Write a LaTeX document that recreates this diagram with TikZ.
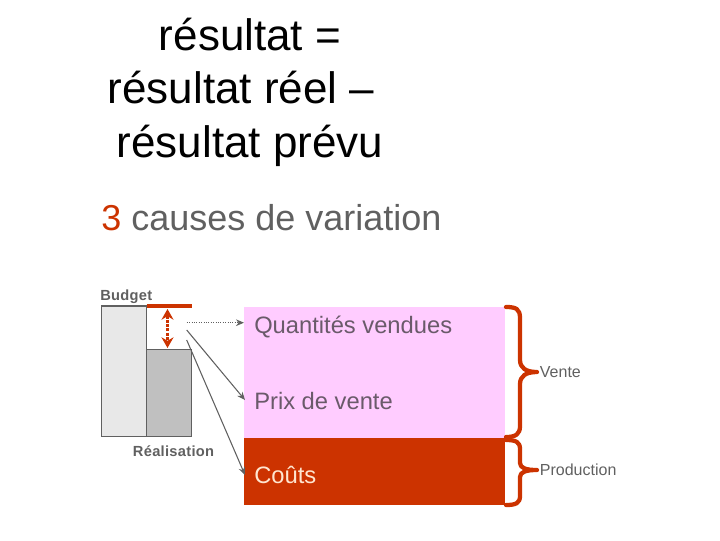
\documentclass[tikz,border=0pt]{standalone}
\usepackage{fontspec}
\setmainfont{Liberation Sans}
\usetikzlibrary{arrows.meta}
\definecolor{rouge}{HTML}{CC3300}
\definecolor{rose}{HTML}{FFCCFF}
\definecolor{gristxt}{HTML}{606060}
\definecolor{grisclair}{HTML}{E8E8E8}
\definecolor{grisfonce}{HTML}{C0C0C0}
\definecolor{bord}{HTML}{606060}
\definecolor{boxtxt}{HTML}{6A5A6A}
\definecolor{coutstxt}{HTML}{FFE6D0}
\tikzset{
  title/.style={anchor=base, font=\fontsize{33}{33}\selectfont, text=black, inner sep=0pt},
  boxlabel/.style={anchor=base west, font=\fontsize{17.8}{18}\selectfont, inner sep=0pt},
  small/.style={anchor=base west, font=\fontsize{11}{11}\selectfont\bfseries, text=gristxt, inner sep=0pt},
  bracelabel/.style={anchor=west, font=\fontsize{12}{12}\selectfont, text=gristxt, inner sep=0pt},
  conn/.style={draw=bord, line width=0.8pt, -{Stealth[length=6pt,width=5pt]}},
  brace/.style={draw=rouge, line width=3.2pt, line cap=round, line join=round}
}
\begin{document}
\begin{tikzpicture}[x=0.75pt,y=-0.75pt]
\useasboundingbox (0,0) rectangle (720,540);
% titles
\node[title] (t1) at (250,50) {résultat =};
\node[title] (t2) at (241,103) {résultat réel –};
\node[title] (t3) at (250,157) {résultat prévu};
\node[anchor=base west, inner sep=0pt, font=\fontsize{27}{27}\selectfont, text=gristxt] (causes) at (101,230) {\textcolor{rouge}{3} causes de variation};
% bar chart
\fill[grisclair] (101.7,306) rectangle (146.7,436.7);
\fill[grisfonce] (146.7,349.3) rectangle (191.7,436.7);
\draw[bord, line width=1.1pt] (101.7,306) rectangle (146.7,436.7);
\draw[bord, line width=1.1pt] (146.7,349.3) rectangle (191.7,436.7);
\draw[rouge, line width=2.6pt] (146.7,306) -- (191.7,306);
\coordinate (dtop) at (167.5,309);
\coordinate (dbot) at (167.5,348);
\draw[rouge, line width=2.2pt, densely dotted, {Stealth[length=8pt,width=9pt]}-{Stealth[length=8pt,width=9pt]}] (dtop) -- (dbot);
\node[small] (budget) at (100,300) {\addfontfeatures{LetterSpace=2}Budget};
\node[small] (real) at (132.7,456) {\addfontfeatures{LetterSpace=2}Réalisation};
% boxes
\fill[rose] (244,306.7) rectangle (505,438);
\fill[rouge] (244,438) rectangle (505,505);
\node[boxlabel, text=boxtxt] (q) at (254,333) {Quantités vendues};
\node[boxlabel, text=boxtxt] (p) at (254,409) {Prix de vente};
\node[boxlabel, text=coutstxt] (c) at (254,483) {Coûts};
% connectors
\coordinate (sq) at (186.7,322.7);
\coordinate (sp) at (186.7,330);
\coordinate (sc) at (186.7,340);
\coordinate (eq) at (244,322.7);
\coordinate (ep) at (245,400);
\coordinate (ec) at (245,475);
\draw[conn, densely dotted] (sq) -- (eq);
\draw[conn] (sp) -- (ep);
\draw[conn] (sc) -- (ec);
% braces
\draw[brace] (506,307) .. controls (516,307) and (520,309) .. (520,318)
  -- (520,360) .. controls (520,368) and (526,372) .. (537,372)
  .. controls (526,372) and (520,376) .. (520,384)
  -- (520,426) .. controls (520,434) and (516,437) .. (506,437);
\draw[brace] (506,440) .. controls (516,440) and (520,442) .. (520,449)
  -- (520,463) .. controls (520,468) and (526,470) .. (537,470)
  .. controls (526,470) and (520,472) .. (520,477)
  -- (520,496) .. controls (520,503) and (516,505) .. (506,505);
\coordinate (vtip) at (537,372);
\coordinate (ptip) at (537,470);
\node[bracelabel] (vente) at ([xshift=2pt]vtip) {Vente};
\node[bracelabel] (prod) at ([xshift=2pt]ptip) {Production};
\end{tikzpicture}
\end{document}
